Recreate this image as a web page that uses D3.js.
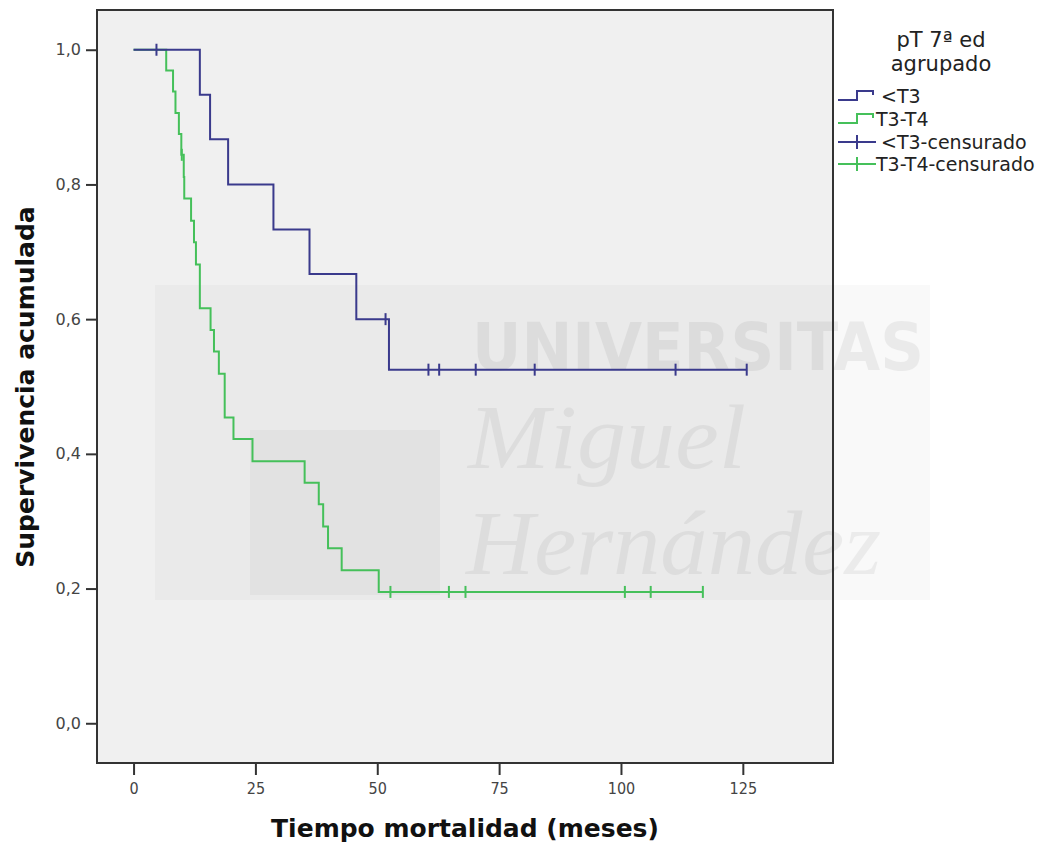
<!DOCTYPE html>
<html>
<head>
<meta charset="utf-8">
<script src="https://cdn.jsdelivr.net/npm/d3@7"></script>
<style>
  body { margin: 0; background: #fff; }
  svg { display: block; }
</style>
</head>
<body>
<div id="chart"></div>
<script>
// Kaplan-Meier steps
const groups = ['<T3', 'T3-T4']

const lowTimes = [0, 13.6, 15.7, 19.4, 28.7, 36.1, 45.7, 52.4]
const lowSurv = [1, 0.933, 0.867, 0.8, 0.733, 0.667, 0.6, 0.525]
const lowCensored = [4.7, 51.7, 60.5, 62.7, 70.2, 82.3, 111.2, 125.8]

const highTimes = [0, 6.7, 8.1, 8.6, 9.3, 9.8, 10.3, 10.4, 11.8, 12.4, 12.8, 13.6,
  15.8, 16.5, 17.5, 18.7, 20.5, 24.4, 35.1, 38.0, 38.9, 39.9, 42.7, 50.3]
const highSurv = [1, 0.969, 0.938, 0.906, 0.875, 0.844, 0.811, 0.779, 0.746, 0.714, 0.681, 0.616,
  0.584, 0.552, 0.519, 0.454, 0.422, 0.389, 0.357, 0.325, 0.292, 0.260, 0.227, 0.195]
const highCensored = [9.9, 52.7, 64.7, 68.1, 100.8, 106.1, 116.8]

const xTicks = [0, 25, 50, 75, 100, 125]
const yTicks = [0, 0.2, 0.4, 0.6, 0.8, 1.0]

const legendTitle = ['pT 7ª ed', 'agrupado']
const legendLabels = ['<T3', 'T3-T4', '<T3-censurado', 'T3-T4-censurado']

const colors = { '<T3': '#3a3a8c', 'T3-T4': '#45c05a' }

const W = 1050, H = 842
const frame = { left: 97, right: 833, top: 10, bottom: 763 }

const svg = d3.select('#chart').append('svg')
  .attr('width', W).attr('height', H)

const x = d3.scaleLinear().domain([-7.5, 143.5]).range([frame.left, frame.right])
const y = d3.scaleLinear().domain([-0.059, 1.059]).range([frame.bottom, frame.top])

// plot background
svg.append('rect')
  .attr('x', frame.left).attr('y', frame.top)
  .attr('width', frame.right - frame.left).attr('height', frame.bottom - frame.top)
  .attr('fill', '#f0f0f0')

// faint watermark (part of the source image)
const wm = svg.append('g').attr('class', 'watermark').attr('pointer-events', 'none')
wm.append('rect').attr('x', 155).attr('y', 285).attr('width', 775).attr('height', 315)
  .attr('fill', '#000').attr('opacity', 0.022)
wm.append('rect').attr('x', 250).attr('y', 430).attr('width', 190).attr('height', 165)
  .attr('fill', '#000').attr('opacity', 0.03)
wm.append('text').attr('x', 472).attr('y', 370).text('UNIVERSITAS')
  .attr('font-family', 'DejaVu Sans Condensed, DejaVu Sans').attr('font-weight', 'bold')
  .attr('font-size', 66).attr('textLength', 452).attr('lengthAdjust', 'spacingAndGlyphs')
  .attr('fill', '#000').attr('opacity', 0.055)
wm.append('text').attr('x', 468).attr('y', 468).text('Miguel')
  .attr('font-family', 'Liberation Serif, DejaVu Serif').attr('font-style', 'italic')
  .attr('font-size', 92).attr('textLength', 278).attr('lengthAdjust', 'spacingAndGlyphs')
  .attr('fill', '#000').attr('opacity', 0.05)
wm.append('text').attr('x', 466).attr('y', 574).text('Hernández')
  .attr('font-family', 'Liberation Serif, DejaVu Serif').attr('font-style', 'italic')
  .attr('font-size', 92).attr('textLength', 415).attr('lengthAdjust', 'spacingAndGlyphs')
  .attr('fill', '#000').attr('opacity', 0.05)

const series = [
  { key: '<T3', times: lowTimes, surv: lowSurv, censored: lowCensored },
  { key: 'T3-T4', times: highTimes, surv: highSurv, censored: highCensored }
]

function survAt(s, t) {
  let v = s.surv[0]
  s.times.forEach((tt, i) => { if (tt <= t) v = s.surv[i] })
  return v
}

const line = d3.line()
  .x(d => x(d[0])).y(d => y(d[1]))
  .curve(d3.curveStepAfter)

// draw green first so blue sits on top near the start
series.slice().reverse().forEach(s => {
  const pts = s.times.map((t, i) => [t, s.surv[i]])
  const end = d3.max(s.censored)
  pts.push([end, s.surv[s.surv.length - 1]])

  svg.append('path')
    .datum(pts)
    .attr('d', line)
    .attr('fill', 'none')
    .attr('stroke', colors[s.key])
    .attr('stroke-width', 2)

  svg.append('g').selectAll('line')
    .data(s.censored)
    .enter().append('line')
    .attr('x1', d => x(d)).attr('x2', d => x(d))
    .attr('y1', d => y(survAt(s, d)) - 6)
    .attr('y2', d => y(survAt(s, d)) + 6)
    .attr('stroke', colors[s.key])
    .attr('stroke-width', 2)
})

// frame
svg.append('rect')
  .attr('x', frame.left).attr('y', frame.top)
  .attr('width', frame.right - frame.left).attr('height', frame.bottom - frame.top)
  .attr('fill', 'none').attr('stroke', '#333').attr('stroke-width', 2)

const fmt = d => d3.format('.1f')(d).replace('.', ',')

const yAxis = svg.append('g')
  .attr('transform', 'translate(' + frame.left + ',0)')
  .call(d3.axisLeft(y).tickValues(yTicks).tickFormat(fmt).tickSize(11).tickPadding(5))
yAxis.select('.domain').remove()
yAxis.selectAll('line').attr('stroke', '#333').attr('stroke-width', 2)
yAxis.selectAll('text')
  .attr('font-family', 'DejaVu Sans').attr('font-size', 16).attr('fill', '#444')

const xAxis = svg.append('g')
  .attr('transform', 'translate(0,' + frame.bottom + ')')
  .call(d3.axisBottom(x).tickValues(xTicks).tickSize(12).tickPadding(8))
xAxis.select('.domain').remove()
xAxis.selectAll('line').attr('stroke', '#333').attr('stroke-width', 2)
xAxis.selectAll('text')
  .attr('font-family', 'DejaVu Sans Condensed, DejaVu Sans').attr('font-size', 16).attr('fill', '#444')

// axis titles
svg.append('text')
  .attr('transform', 'translate(34,387) rotate(-90)')
  .attr('text-anchor', 'middle')
  .attr('font-family', 'DejaVu Sans').attr('font-weight', 'bold')
  .attr('font-size', 25).attr('fill', '#111')
  .text('Supervivencia acumulada')

svg.append('text')
  .attr('x', 465).attr('y', 837)
  .attr('text-anchor', 'middle')
  .attr('font-family', 'DejaVu Sans').attr('font-weight', 'bold')
  .attr('font-size', 25).attr('fill', '#111')
  .text('Tiempo mortalidad (meses)')

// legend
const legend = svg.append('g').attr('class', 'legend')
legend.selectAll('.ltitle')
  .data(legendTitle)
  .enter().append('text')
  .attr('x', 941).attr('y', (d, i) => 47 + i * 24)
  .attr('text-anchor', 'middle')
  .attr('font-family', 'DejaVu Sans').attr('font-size', 21).attr('fill', '#222')
  .text(d => d)

const itemY = [96, 119, 142, 164]
legendLabels.forEach((lab, i) => {
  const col = colors[groups[i % 2]]
  const yy = itemY[i]
  if (i < 2) {
    legend.append('path')
      .attr('d', 'M838,' + (yy + 4) + 'H857V' + (yy - 5) + 'H873V' + (yy - 1))
      .attr('fill', 'none').attr('stroke', col).attr('stroke-width', 2)
  } else {
    legend.append('path')
      .attr('d', 'M838,' + yy + 'H876M857,' + (yy - 7) + 'V' + (yy + 7))
      .attr('fill', 'none').attr('stroke', col).attr('stroke-width', 2)
  }
  legend.append('text')
    .attr('x', i === 0 || i === 2 ? 881 : 876).attr('y', yy + 7)
    .attr('font-family', 'DejaVu Sans').attr('font-size', 19).attr('fill', '#222')
    .text(lab)
})
</script>
</body>
</html>
